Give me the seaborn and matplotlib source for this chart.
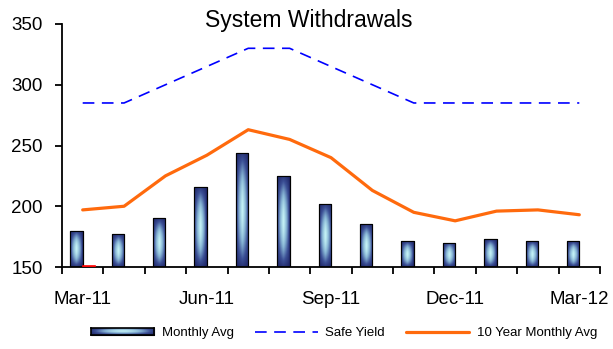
import numpy as np
import pandas as pd
import matplotlib
matplotlib.use("Agg")
import matplotlib.pyplot as plt
from matplotlib.colors import LinearSegmentedColormap
from matplotlib.lines import Line2D
from matplotlib.patches import Rectangle
import seaborn as sns

months = ["Mar-11", "Apr-11", "May-11", "Jun-11", "Jul-11", "Aug-11", "Sep-11",
          "Oct-11", "Nov-11", "Dec-11", "Jan-12", "Feb-12", "Mar-12"]
monthly_avg = [180, 177, 190, 216, 244, 225, 202, 185, 171, 170, 173, 171, 171]
current_month = [151, np.nan, np.nan, np.nan, np.nan, np.nan, np.nan,
                 np.nan, np.nan, np.nan, np.nan, np.nan, np.nan]
safe_yield = [285, 285, 300, 315, 330, 330, 315, 300, 285, 285, 285, 285, 285]
ten_year_avg = [197, 200, 225, 242, 263, 255, 240, 213, 195, 188, 196, 197, 193]
shown_labels = ["Mar-11", "Jun-11", "Sep-11", "Dec-11", "Mar-12"]

sns.set_theme(style="white")
plt.rcParams["font.family"] = ["Liberation Sans", "DejaVu Sans"]

fig = plt.figure(figsize=(6.13, 3.49), dpi=100)
ax = fig.add_axes([62 / 613, 1 - 267 / 349, (600 - 62) / 613, (267 - 24) / 349])

bars = pd.DataFrame({
    "month": months * 2,
    "value": monthly_avg + current_month,
    "series": ["Monthly Avg"] * len(months) + ["Current"] * len(months),
})
sns.barplot(data=bars, x="month", y="value", hue="series", order=months,
            hue_order=["Monthly Avg", "Current"],
            palette={"Monthly Avg": "#2a3478", "Current": "#ff0000"},
            width=0.6, dodge=True, legend=False, ax=ax,
            edgecolor="black", linewidth=0.8)

n = len(months)
bar_patches = list(ax.patches)
avg_patches = bar_patches[:n]
current_patches = bar_patches[n:]

# gradient fill for the monthly bars: dark navy rim, pale cyan core
grad_cmap = LinearSegmentedColormap.from_list(
    "barfill", ["#1a2060", "#3c5096", "#86b4d4", "#c8f6f8"])
u = np.linspace(0, 1, 40)
t = np.linspace(0, 1, 120)
U, T = np.meshgrid(u, t)
fill = (1 - np.abs(2 * U - 1)) ** 0.6 * (1 - 0.85 * np.abs(2 * T - 1) ** 1.8)

for patch in avg_patches:
    x0, y0 = patch.get_x(), patch.get_y()
    w, h = patch.get_width(), patch.get_height()
    if not np.isfinite(h):
        continue
    img = ax.imshow(fill, cmap=grad_cmap, vmin=0, vmax=1, aspect="auto",
                    extent=(x0, x0 + w, 150, y0 + h), origin="lower",
                    interpolation="bilinear", zorder=patch.get_zorder() + 0.1)
    img.set_clip_path(patch)
    ax.add_patch(Rectangle((x0, 150), w, y0 + h - 150, fill=False,
                           edgecolor="black", linewidth=0.8,
                           zorder=patch.get_zorder() + 0.2))
for patch in current_patches:
    patch.set_edgecolor("#ff0000")
    patch.set_linewidth(1.2)
    patch.set_zorder(4)

xs = np.arange(n)
sns.lineplot(x=xs, y=safe_yield, ax=ax, color="#0000ff", linewidth=1.2,
             linestyle=(0, (7, 4.5)), zorder=5)
sns.lineplot(x=xs, y=ten_year_avg, ax=ax, color="#ff6a0d", linewidth=2.3,
             zorder=6)

ax.set_xlim(-0.5, n - 0.5)
ax.set_ylim(150, 350)
ax.set_xlabel("")
ax.set_ylabel("")

# category boundary ticks, labels centred on selected months
ax.set_xticks(np.arange(n + 1) - 0.5)
ax.set_xticklabels([""] * (n + 1))
ax.set_xticks([months.index(m) for m in shown_labels], minor=True)
ax.set_xticklabels(shown_labels, minor=True)
ax.tick_params(axis="x", which="major", direction="out", length=5, width=1.3,
               color="black", bottom=True)
ax.tick_params(axis="x", which="minor", length=0, pad=17, labelsize=13.5,
               labelcolor="black")
ax.set_yticks([150, 200, 250, 300, 350])
ax.tick_params(axis="y", direction="out", length=5, width=1.3, color="black",
               left=True, pad=9, labelsize=13.5, labelcolor="black")

for side in ["top", "right"]:
    ax.spines[side].set_visible(False)
for side in ["left", "bottom"]:
    ax.spines[side].set_color("black")
    ax.spines[side].set_linewidth(1.3)

fig.text(309 / 613, 1 - 20 / 349, "System Withdrawals", ha="center", va="center",
         fontsize=16.5, color="black")

handles = [
    Rectangle((0, 0), 1, 1, facecolor="#6f94c0", edgecolor="black", linewidth=0.8),
    Line2D([], [], color="#0000ff", linewidth=1.2, linestyle=(0, (7, 4.5))),
    Line2D([], [], color="#ff6a0d", linewidth=2.3),
]
leg = fig.legend(handles, ["Monthly Avg", "Safe Yield", "10 Year Monthly Avg"],
                 loc="center", bbox_to_anchor=(344 / 613, 1 - 333 / 349), ncol=3,
                 frameon=False, fontsize=9.5, handlelength=4.8, handleheight=0.45,
                 handletextpad=0.55, columnspacing=1.6, labelcolor="black")

# gradient inside the legend swatch
fig.canvas.draw()
bb = leg.legend_handles[0].get_window_extent().transformed(fig.transFigure.inverted())
lax = fig.add_axes([bb.x0, bb.y0, bb.width, bb.height], zorder=10)
lax.imshow(fill.T, cmap=grad_cmap, vmin=0, vmax=1, aspect="auto",
           interpolation="bilinear")
lax.set_xticks([])
lax.set_yticks([])
for s in lax.spines.values():
    s.set_color("black")
    s.set_linewidth(1.2)

fig.savefig("out.png", dpi=100)
